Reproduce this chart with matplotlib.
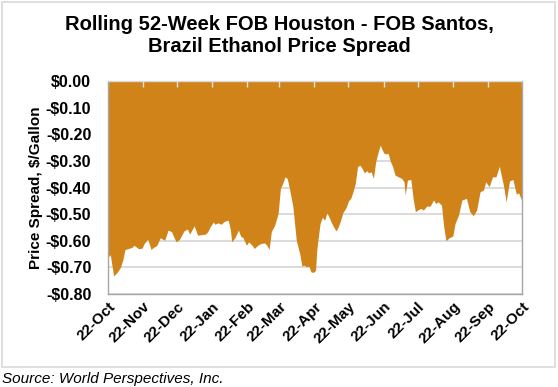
import matplotlib
matplotlib.use("Agg")
import matplotlib.pyplot as plt
import matplotlib.dates as mdates
from matplotlib.patches import Rectangle
import pandas as pd

plt.rcParams['font.family'] = ['Liberation Sans', 'DejaVu Sans']

# days after 22-Oct-2022 and the Houston - Santos spread ($/gal)
start = pd.Timestamp("2022-10-22")
day_offsets = [0, 1, 2, 5, 8, 11, 13, 15, 18, 21, 23, 27, 30, 32, 35, 38, 40, 43, 46,
               50, 53, 56, 60, 63, 67, 70, 72, 76, 79, 86, 88, 90, 93, 94, 97, 100,
               102, 104, 106, 108, 109, 112, 115, 117, 119, 122, 124, 127, 129, 132,
               135, 138, 140, 142, 144, 147, 150, 152, 154, 156, 158, 160, 163, 166,
               169, 171, 173, 175, 177, 179, 181, 183, 184, 185, 187, 189, 191, 193,
               195, 197, 199, 201, 203, 205, 207, 210, 212, 214, 216, 218, 220, 222,
               224, 226, 228, 230, 232, 234, 236, 238, 240, 243, 245, 247, 249, 251,
               253, 256, 259, 261, 262, 264, 267, 269, 271, 274, 276, 278, 281, 284,
               287, 289, 291, 294, 296, 298, 301, 304, 306, 309, 312, 316, 319, 322,
               325, 328, 331, 333, 336, 339, 342, 345, 347, 349, 351, 354, 357, 360,
               362, 364, 365]
spread = [-0.66, -0.658, -0.652, -0.732, -0.719, -0.700, -0.673, -0.633, -0.629, -0.625,
          -0.617, -0.630, -0.628, -0.610, -0.594, -0.633, -0.625, -0.618, -0.589,
          -0.598, -0.560, -0.566, -0.604, -0.595, -0.563, -0.556, -0.575, -0.544,
          -0.579, -0.575, -0.566, -0.548, -0.529, -0.538, -0.533, -0.538,
          -0.529, -0.525, -0.523, -0.560, -0.604, -0.588, -0.560, -0.583, -0.588,
          -0.617, -0.604, -0.617, -0.629, -0.617,
          -0.610, -0.608, -0.617, -0.633, -0.566, -0.541, -0.497, -0.404, -0.385,
          -0.360, -0.366, -0.404, -0.472, -0.598,
          -0.648, -0.695, -0.692, -0.698, -0.695, -0.717, -0.719, -0.711, -0.64,
          -0.60, -0.535, -0.512, -0.523, -0.495,
          -0.512, -0.533, -0.548, -0.563, -0.548, -0.525, -0.495, -0.475, -0.450,
          -0.441, -0.416, -0.385, -0.322, -0.316,
          -0.328, -0.345, -0.337, -0.345, -0.341, -0.366, -0.303, -0.270, -0.241,
          -0.270, -0.274, -0.272, -0.303, -0.322,
          -0.353, -0.360, -0.366, -0.379, -0.429, -0.372, -0.370, -0.441, -0.491,
          -0.482, -0.479, -0.485, -0.470, -0.470,
          -0.447, -0.460, -0.454, -0.466, -0.548, -0.600, -0.588, -0.582, -0.535,
          -0.504, -0.447, -0.441, -0.491, -0.506,
          -0.485, -0.416, -0.410, -0.379, -0.397, -0.360, -0.360, -0.320, -0.360,
          -0.400, -0.454, -0.375, -0.370, -0.425,
          -0.420, -0.441, -0.447]
dates = start + pd.to_timedelta(day_offsets, unit="D")

month_ticks = pd.date_range("2022-10-01", "2023-10-01", freq="MS") + pd.Timedelta(days=21)
y_ticks = [0.0, -0.1, -0.2, -0.3, -0.4, -0.5, -0.6, -0.7, -0.8]

fill_color = "#D08318"
edge_gray = "#A6A6A6"

fig = plt.figure(figsize=(5.58, 3.87), dpi=100)
fig.patches.append(Rectangle((0.003, 0.052), 0.992, 0.943, transform=fig.transFigure,
                             fill=False, edgecolor="#D9D9D9", linewidth=1.2))

ax = fig.add_axes([0.1935, 0.2403, 0.742, 0.5504])
for y in y_ticks:
    ax.axhline(y, color="#D9D9D9", linewidth=1.3, zorder=0.5)
ax.fill_between(dates, spread, 0, color=fill_color, linewidth=0, zorder=1)

ax.set_xlim(start, start + pd.Timedelta(days=365))
ax.set_ylim(-0.8, 0.0)
ax.set_yticks(y_ticks)
ax.set_yticklabels([f"-${abs(v):.2f}" if v < 0 else f"${v:.2f}" for v in y_ticks])
ax.set_xticks(month_ticks)
ax.xaxis.set_major_formatter(mdates.DateFormatter("22-%b"))

ax.tick_params(axis="y", length=0, pad=12, labelsize=11.5)
ax.tick_params(axis="x", top=True, bottom=False, direction="in", length=4,
               color="#E6E6E6", width=1, labelbottom=True, labelsize=11, pad=4)
for lab in ax.get_yticklabels() + ax.get_xticklabels():
    lab.set_fontweight("bold")
plt.setp(ax.get_xticklabels(), rotation=45, ha="right", rotation_mode="anchor")

for side in ["left", "right", "bottom", "top"]:
    ax.spines[side].set_color(edge_gray)
    ax.spines[side].set_linewidth(1)
ax.spines["top"].set_color("#D9D9D9")

ax.set_ylabel("Price Spread, $/Gallon", fontsize=11, fontweight="bold", labelpad=2)

fig.text(0.5, 0.962, "Rolling 52-Week FOB Houston - FOB Santos,\nBrazil Ethanol Price Spread",
         ha="center", va="top", fontsize=14.5, fontweight="bold", linespacing=1.2)
fig.text(0.004, 0.021, "Source: World Perspectives, Inc.", ha="left", va="center",
         fontsize=11, style="italic")

fig.savefig("out.png", dpi=100)
